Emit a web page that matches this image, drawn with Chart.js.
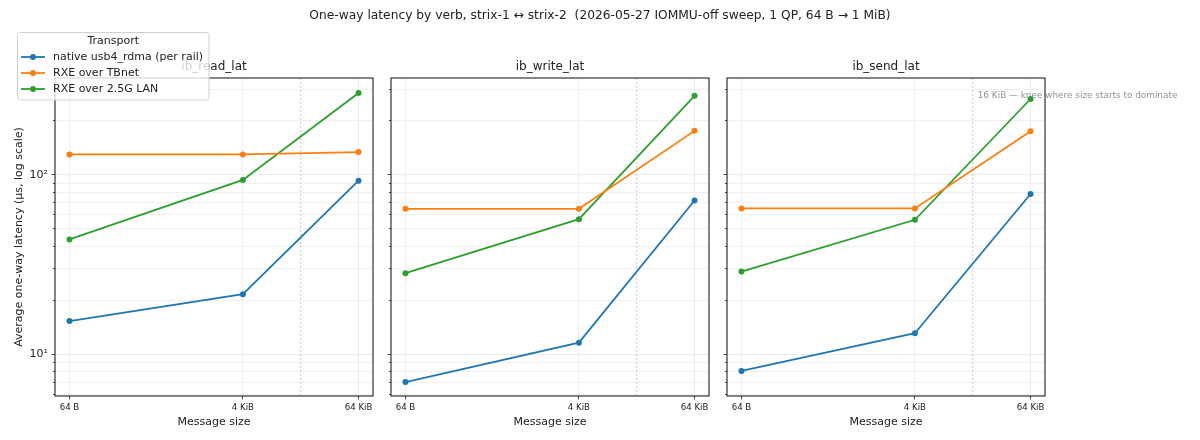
<!DOCTYPE html>
<html>
<head>
<meta charset="utf-8">
<title>One-way latency by verb</title>
<script src="https://cdn.jsdelivr.net/npm/chart.js@4.4.1/dist/chart.umd.min.js"></script>
<style>
  body { margin: 0; background: #fff; }
  #fig { position: relative; width: 1200px; height: 440px; overflow: hidden; }
  #fig canvas { position: absolute; left: 0; top: 0; }
  #suptitle {
    position: absolute; top: 6px; left: 0; width: 1200px;
    text-align: center; font: 12.25px "DejaVu Sans", sans-serif;
    color: #222; line-height: 18px; white-space: pre;
  }
</style>
</head>
<body>
<div id="fig">
  <canvas id="panel0" width="1200" height="440"></canvas>
  <canvas id="panel1" width="1200" height="440"></canvas>
  <canvas id="panel2" width="1200" height="440"></canvas>
  <div id="suptitle">One-way latency by verb, strix-1 ↔ strix-2  (2026-05-27 IOMMU-off sweep, 1 QP, 64 B → 1 MiB)</div>
</div>

<script>
// message sizes (x) and their tick labels
const sizeBytes = [64, 4096, 65536];
const sizeLabels = ["64 B", "4 KiB", "64 KiB"];

const verbs = ["ib_read_lat", "ib_write_lat", "ib_send_lat"];
const transports = ["native usb4_rdma (per rail)", "RXE over TBnet", "RXE over 2.5G LAN"];
const colors = ["#1f77b4", "#ff7f0e", "#2ca02c"];

// average one-way latency in µs
const readNative = [15.3, 21.6, 92.9];
const readTbnet = [130, 130, 134];
const readLan = [43.7, 93.8, 286];

const writeNative = [7.0, 11.6, 72];
const writeTbnet = [64.7, 64.7, 176];
const writeLan = [28.3, 56.6, 276];

const sendNative = [8.07, 13.1, 78.3];
const sendTbnet = [65, 65, 175];
const sendLan = [28.9, 56.2, 265];

// y axis ticks
const yMajorTicks = [10, 100];
const yMajorLabels = ["10¹", "10²"];
const yMinorTicks = [6, 7, 8, 9, 20, 30, 40, 50, 60, 70, 80, 90, 200, 300];

const kneeBytes = 16384;
const kneeNote = "16 KiB — knee where size starts to dominate";

const series = [
  [readNative, readTbnet, readLan],
  [writeNative, writeTbnet, writeLan],
  [sendNative, sendTbnet, sendLan]
];

// layout of the three panels (pixels)
const areaLeft = [55, 391, 727];
const areaRight = [373, 709, 1045];
const yAxisWidth = [42.6, 10, 10];

Chart.defaults.font.family = '"DejaVu Sans", sans-serif';
Chart.defaults.color = "#222";

const frame = {
  id: "frame",
  beforeDatasetsDraw(chart) {
    // dotted marker at the 16 KiB knee
    const { ctx, chartArea } = chart;
    const x = chart.scales.x.getPixelForValue(kneeBytes);
    ctx.save();
    ctx.strokeStyle = "#b8b8b8";
    ctx.lineWidth = 1;
    ctx.setLineDash([1.5, 2.5]);
    ctx.beginPath();
    ctx.moveTo(x, chartArea.top);
    ctx.lineTo(x, chartArea.bottom);
    ctx.stroke();
    ctx.restore();
  },
  afterDraw(chart) {
    const { ctx, chartArea } = chart;
    ctx.save();
    ctx.strokeStyle = "#222";
    ctx.lineWidth = 1.1;
    ctx.strokeRect(chartArea.left, chartArea.top, chartArea.width, chartArea.height);
    ctx.restore();
  }
};

const kneeLabel = {
  id: "kneeLabel",
  afterDraw(chart) {
    const ctx = chart.ctx;
    const x = chart.scales.x.getPixelForValue(kneeBytes);
    ctx.save();
    ctx.fillStyle = "rgba(110,110,110,0.75)";
    ctx.font = '8.9px "DejaVu Sans", sans-serif';
    ctx.textBaseline = "middle";
    ctx.textAlign = "left";
    ctx.fillText(kneeNote, x + 5, chart.chartArea.top + 18);
    ctx.restore();
  }
};

const figureLegend = {
  id: "figureLegend",
  afterDraw(chart) {
    const ctx = chart.ctx;
    const bx = 17.5, by = 32.5, bw = 191.5, bh = 67.5;
    ctx.save();
    ctx.beginPath();
    ctx.roundRect(bx, by, bw, bh, 3);
    ctx.fillStyle = "rgba(255,255,255,0.8)";
    ctx.fill();
    ctx.strokeStyle = "#d0d0d0";
    ctx.lineWidth = 1;
    ctx.stroke();

    ctx.fillStyle = "#222";
    ctx.font = '11px "DejaVu Sans", sans-serif';
    ctx.textBaseline = "middle";
    ctx.textAlign = "center";
    ctx.fillText("Transport", bx + bw / 2, 41);

    ctx.textAlign = "left";
    chart.data.datasets.forEach((ds, i) => {
      const y = 57 + i * 16;
      ctx.strokeStyle = ds.borderColor;
      ctx.lineWidth = 1.8;
      ctx.beginPath();
      ctx.moveTo(21, y);
      ctx.lineTo(45, y);
      ctx.stroke();
      ctx.fillStyle = ds.borderColor;
      ctx.beginPath();
      ctx.arc(33, y, 3, 0, Math.PI * 2);
      ctx.fill();
      ctx.fillStyle = "#222";
      ctx.fillText(ds.label, 53, y);
    });
    ctx.restore();
  }
};

function crearPanel(i) {
  const datasets = transports.map((name, k) => ({
    label: name,
    data: sizeBytes.map((b, j) => ({ x: b, y: series[i][k][j] })),
    borderColor: colors[k],
    backgroundColor: colors[k],
    borderWidth: 1.8,
    pointRadius: 3,
    pointHoverRadius: 3,
    pointBorderWidth: 0,
    tension: 0,
    fill: false,
    yAxisID: "y"
  }));

  const plugins = [frame];
  if (i === 0) plugins.push(figureLegend);
  if (i === 2) plugins.push(kneeLabel);

  return new Chart(document.getElementById("panel" + i), {
    type: "line",
    data: { datasets },
    plugins,
    options: {
      responsive: false,
      animation: false,
      events: [],
      layout: {
        padding: {
          left: areaLeft[i] - yAxisWidth[i],
          right: 1200 - areaRight[i],
          top: 60,
          bottom: 11.7
        }
      },
      plugins: {
        legend: { display: false },
        tooltip: { enabled: false },
        title: {
          display: true,
          text: verbs[i],
          fullSize: false,
          font: { size: 12, weight: "normal" },
          padding: { top: 0, bottom: 3.6 },
          color: "#222"
        }
      },
      scales: {
        x: {
          type: "logarithmic",
          min: 45.25,
          max: 92682,
          bounds: "data",
          afterBuildTicks: (s) => { s.ticks = sizeBytes.map(v => ({ value: v })); },
          afterFit: (s) => { s.height = 32.3; },
          border: { display: false },
          grid: { color: "#e8e8e8", tickColor: "#222", tickLength: 3.5, lineWidth: 0.8 },
          ticks: {
            autoSkip: false,
            maxRotation: 0,
            padding: 3,
            font: { size: 8.6 },
            color: "#222",
            callback: (v) => sizeLabels[sizeBytes.indexOf(v)]
          },
          title: {
            display: true,
            text: "Message size",
            font: { size: 11 },
            padding: { top: 0, bottom: 0 },
            color: "#222"
          }
        },
        y: {
          type: "logarithmic",
          position: "left",
          weight: 1,
          min: 5.85,
          max: 347,
          bounds: "data",
          afterBuildTicks: (s) => { s.ticks = yMajorTicks.map(v => ({ value: v })); },
          afterFit: (s) => { s.width = yAxisWidth[i]; },
          border: { display: false },
          grid: { color: "#e4e4e4", tickColor: "#222", tickLength: 3.5, lineWidth: 0.8 },
          ticks: {
            display: i === 0,
            autoSkip: false,
            padding: 3.5,
            font: { size: 11 },
            color: "#222",
            callback: (v) => yMajorLabels[yMajorTicks.indexOf(v)]
          },
          title: {
            display: i === 0,
            text: "Average one-way latency (µs, log scale)",
            font: { size: 11 },
            padding: { top: 0, bottom: 0 },
            color: "#222"
          }
        },
        yMinor: {
          type: "logarithmic",
          position: "left",
          weight: 0,
          min: 5.85,
          max: 347,
          bounds: "data",
          afterBuildTicks: (s) => { s.ticks = yMinorTicks.map(v => ({ value: v })); },
          afterFit: (s) => { s.width = 0; },
          border: { display: false },
          grid: { color: "#ececec", tickColor: "#222", tickLength: 2, lineWidth: 0.8 },
          ticks: { display: false, autoSkip: false }
        }
      }
    }
  });
}

verbs.forEach((_, i) => crearPanel(i));
</script>
</body>
</html>
